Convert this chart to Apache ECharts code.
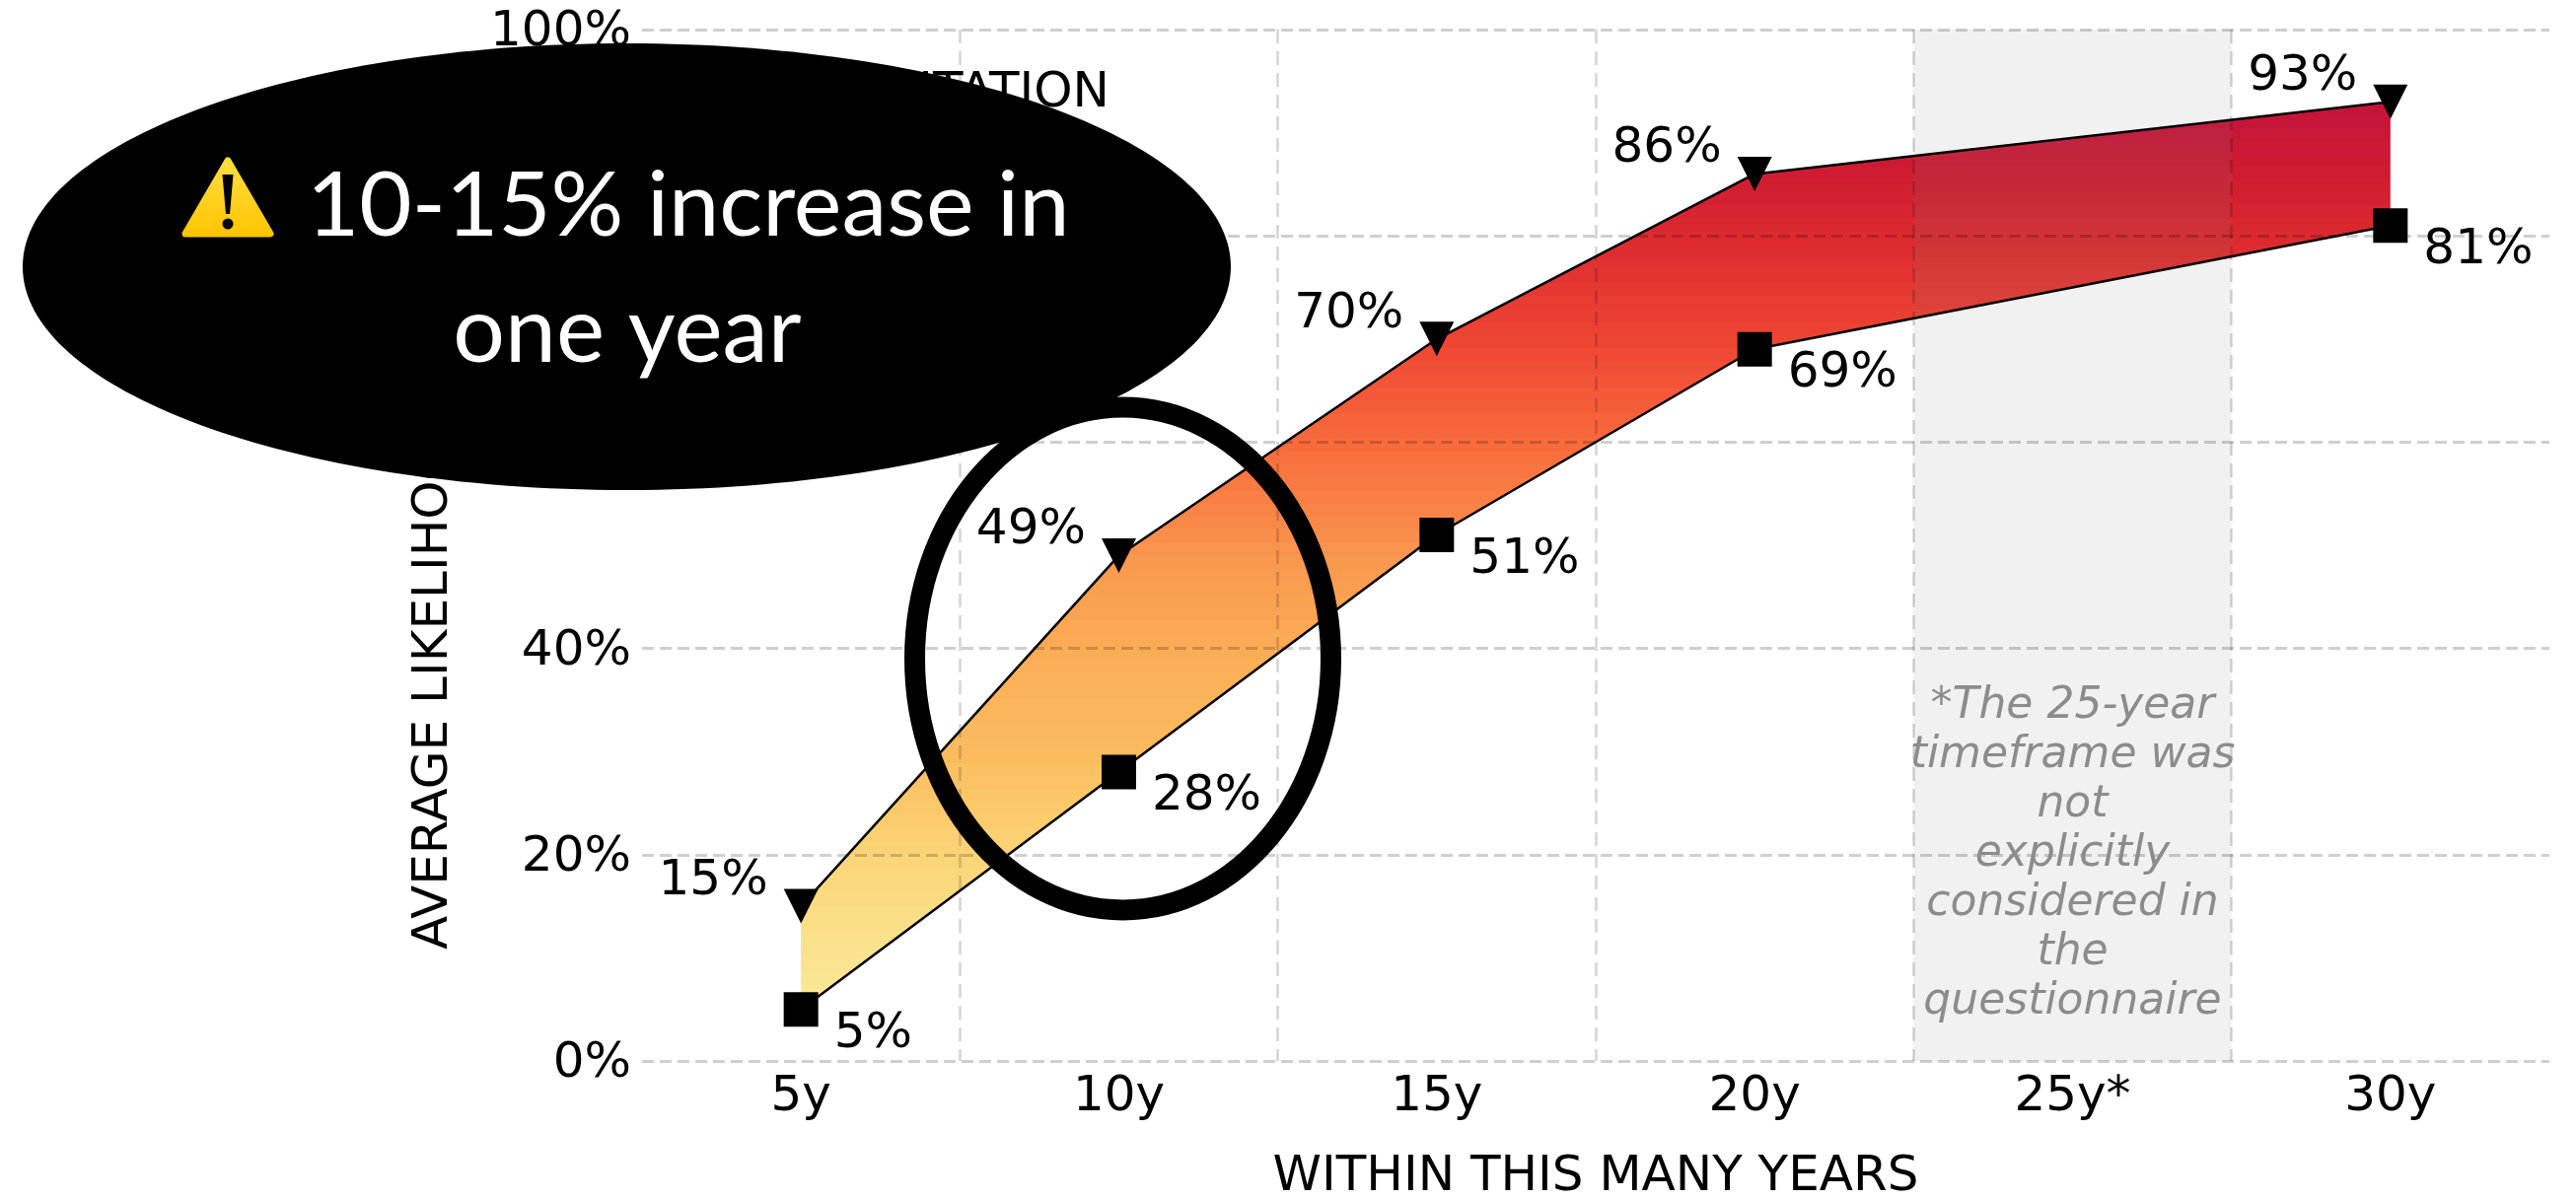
<!DOCTYPE html>
<html>
<head>
<meta charset="utf-8">
<style>
  html, body { margin: 0; padding: 0; background: #fff; }
  #chart { width: 2612px; height: 1217px; }
</style>
<script src="https://cdn.jsdelivr.net/npm/echarts@6/dist/echarts.min.js"></script>
</head>
<body>
<div id="chart"></div>
<script>
// Timeframes on the x axis, and the likelihood range at each one (percent).
const categories = ['5y', '10y', '15y', '20y', '25y*', '30y'];
const upperValues = [15, 49, 70, 86, null, 93];
const lowerValues = [5, 28, 51, 69, null, 81];
const yTicks = [0, 20, 40, 60, 80, 100];

const xTitle = 'WITHIN THIS MANY YEARS';
const yTitle = 'AVERAGE LIKELIHOOD';
const topTitle = 'IMPLEMENTATION';
const skippedCategory = '25y*';
const skippedNote = '*The 25-year\ntimeframe was\nnot\nexplicitly\nconsidered in\nthe\nquestionnaire';
const calloutLines = ['10-15% increase in', 'one year'];

// Ribbon colours from its highest point (offset 0) down to its lowest (offset 1).
const ribbonStops = [
  [0.00, '#c4133a'], [0.08, '#cf1c33'], [0.15, '#dc2a2f'], [0.26, '#ee4433'],
  [0.375, '#f96a3c'], [0.50, '#f9964e'], [0.60, '#fbac55'], [0.72, '#fbbc5e'],
  [0.83, '#fbd578'], [0.94, '#fae38f'], [1.00, '#fbe89a']
];
const ribbonBands = 70;

const font = '"DejaVu Sans"';
const textSize = 50;

const chart = echarts.init(document.getElementById('chart'));

// Colour of the ribbon at offset t, from the stops above.
function ribbonColor(t) {
  let i = 0;
  while (i < ribbonStops.length - 2 && t > ribbonStops[i + 1][0]) i++;
  const a = ribbonStops[i], b = ribbonStops[i + 1];
  return echarts.color.lerp((t - a[0]) / (b[0] - a[0]), [a[1], b[1]]);
}

// The fill steps through flat bands rather than blending continuously.
function ribbonGradient() {
  const stops = [];
  for (let k = 0; k < ribbonBands; k++) {
    const color = ribbonColor((k + 0.5) / ribbonBands);
    stops.push({ offset: k / ribbonBands, color });
    stops.push({ offset: (k + 1) / ribbonBands, color });
  }
  return new echarts.graphic.LinearGradient(0, 0, 0, 1, stops);
}

function ribbon(params, api) {
  const top = [], bottom = [];
  categories.forEach((c, i) => {
    if (upperValues[i] === null) return;
    top.push(api.coord([i, upperValues[i]]));
    bottom.unshift(api.coord([i, lowerValues[i]]));
  });
  return { type: 'polygon', shape: { points: top.concat(bottom) }, style: { fill: ribbonGradient() } };
}

// Translucent shade over the whole band of the category that was not asked about.
function skippedBand(params, api) {
  const index = categories.indexOf(skippedCategory);
  const foot = api.coord([index, 0]);
  const head = api.coord([index, 100]);
  const width = api.size([1, 0])[0];
  return {
    type: 'rect',
    shape: { x: foot[0] - width / 2, y: head[1], width, height: foot[1] - head[1] },
    style: { fill: 'rgba(120,120,120,0.105)' }
  };
}

function boundSeries(name, values, symbol, rotate, side, dy) {
  return {
    name, type: 'line', data: values, connectNulls: true, z: 5,
    symbol, symbolRotate: rotate, symbolSize: 35, showAllSymbol: true,
    lineStyle: { color: '#000', width: 2.5 },
    itemStyle: { color: '#000', opacity: 1 },
    label: {
      show: true, position: side, distance: 16, offset: [0, dy],
      formatter: p => p.value + '%',
      fontFamily: font, fontSize: textSize, color: '#000'
    }
  };
}

chart.setOption({
  animation: false,
  backgroundColor: '#fff',
  grid: { left: 651, top: 30, width: 1934, height: 1046, containLabel: false, outerBoundsMode: 'none' },
  xAxis: {
    type: 'category', data: categories, boundaryGap: true, z: 4,
    axisLine: { show: false }, axisTick: { show: false },
    axisLabel: { fontFamily: font, fontSize: textSize, color: '#000', margin: 12 },
    splitLine: { show: true, showMinLine: false, showMaxLine: false, lineStyle: { type: [14, 8], color: 'rgba(0,0,0,0.17)', width: 2.5 } },
    name: xTitle, nameLocation: 'middle', nameGap: 93,
    nameTextStyle: { fontFamily: font, fontSize: textSize, color: '#000' }
  },
  yAxis: {
    type: 'value', min: 0, max: 100, interval: 20, z: 4,
    axisLine: { show: false }, axisTick: { show: false },
    axisLabel: {
      fontFamily: font, fontSize: textSize, color: '#000', margin: 11,
      verticalAlign: 'top', lineHeight: 6,
      formatter: v => yTicks.includes(v) ? v + '%' : ''
    },
    splitLine: { show: true, lineStyle: { type: [12, 6], color: 'rgba(0,0,0,0.19)', width: 3 } }
  },
  series: [
    { type: 'custom', name: 'Range', renderItem: ribbon, data: [0], z: 2, silent: true, clip: false },
    {
      type: 'custom', name: 'Not surveyed', renderItem: skippedBand, data: [0], z: 3, silent: true, clip: false,
      markPoint: {
        silent: true, symbol: 'circle', symbolSize: 0,
        data: [{ coord: [skippedCategory, 20] }],
        label: {
          show: true, position: 'inside', formatter: skippedNote,
          fontFamily: font, fontStyle: 'italic', fontSize: 44, lineHeight: 50,
          color: '#8c8c8c', align: 'center', verticalAlign: 'middle'
        }
      }
    },
    boundSeries('Upper', upperValues, 'triangle', 180, 'left', -25),
    boundSeries('Lower', lowerValues, 'rect', 0, 'right', 25)
  ],
  graphic: [
    { type: 'text', z: 1, style: { text: topTitle, x: 1125, y: 95, align: 'right', verticalAlign: 'middle', fontFamily: font, fontSize: textSize, fill: '#000' } },
    { type: 'text', z: 1, x: 440, y: 963, rotation: Math.PI / 2, style: { text: yTitle, align: 'left', verticalAlign: 'middle', fontFamily: font, fontSize: textSize, fill: '#000' } },
    // Ring around the 10y step
    { type: 'ellipse', z: 50, shape: { cx: 1138.5, cy: 668, rx: 211, ry: 255 }, style: { fill: 'none', stroke: '#000', lineWidth: 21 } },
    // Black callout and its warning sign
    { type: 'ellipse', z: 60, shape: { cx: 635.5, cy: 270.5, rx: 612.5, ry: 226.5 }, style: { fill: '#000' } },
    { type: 'polygon', z: 61, shape: { points: [[231, 163], [274, 237], [188, 237]] }, style: {
      fill: new echarts.graphic.LinearGradient(0, 0, 0, 1, [{ offset: 0, color: '#ffdf40' }, { offset: 1, color: '#ffc400' }]),
      stroke: new echarts.graphic.LinearGradient(0, 0, 0, 1, [{ offset: 0, color: '#ffdf40' }, { offset: 1, color: '#ffc400' }]),
      lineWidth: 7, lineJoin: 'round' } },
    { type: 'polygon', z: 62, shape: { points: [[225.5, 177], [236.5, 177], [233, 217], [229, 217]] }, style: { fill: '#000' } },
    { type: 'circle', z: 62, shape: { cx: 231, cy: 227, r: 5.5 }, style: { fill: '#000' } },
    { type: 'text', z: 61, style: { text: calloutLines[0], x: 311, y: 255, verticalAlign: 'bottom', fontFamily: 'Lato', fontSize: 92, fill: '#fff' } },
    { type: 'text', z: 61, style: { text: calloutLines[1], x: 636, y: 383, align: 'center', verticalAlign: 'bottom', fontFamily: 'Lato', fontSize: 93, fill: '#fff' } }
  ]
});
</script>
</body>
</html>
